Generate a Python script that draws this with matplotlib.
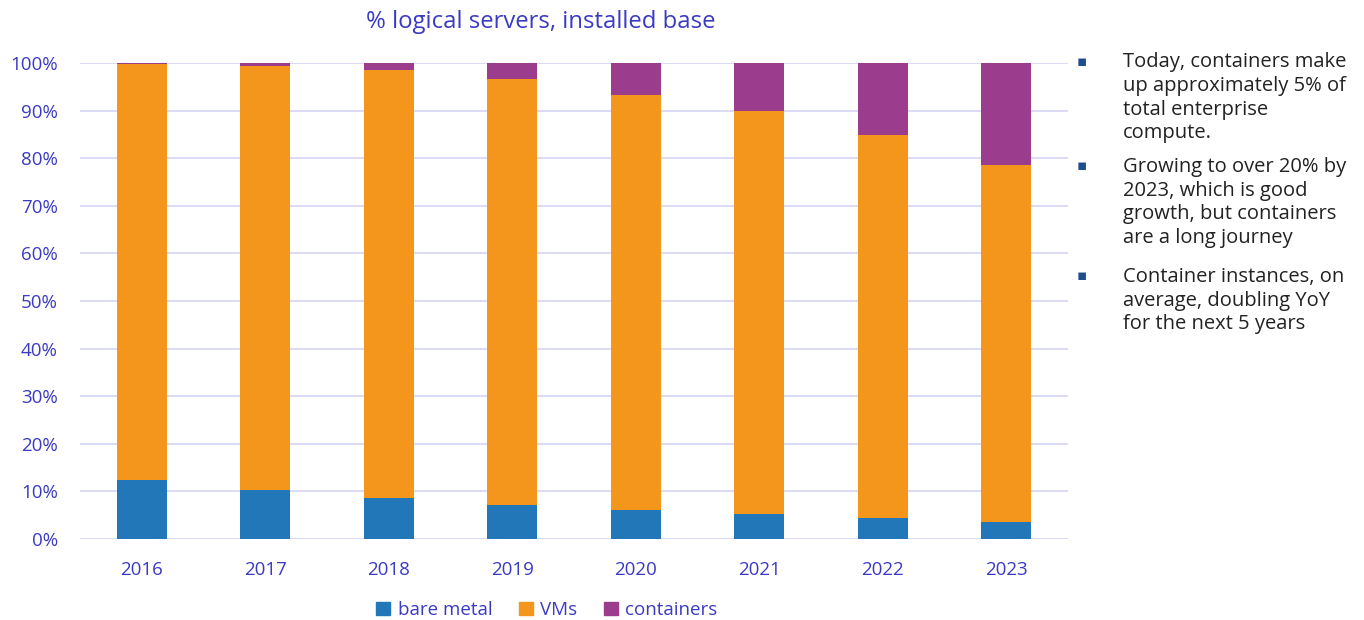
import numpy as np
import matplotlib.pyplot as plt
from matplotlib.patches import Patch

plt.rcParams['font.family'] = ['Open Sans', 'DejaVu Sans']

# Chart data (percent of logical servers)
years = ["2016", "2017", "2018", "2019", "2020", "2021", "2022", "2023"]
bare_metal = [12.4, 10.3, 8.6, 7.1, 6.1, 5.3, 4.4, 3.6]
containers = [0.2, 0.6, 1.5, 3.4, 6.7, 10.1, 15.1, 21.4]
vms = [100 - b - c for b, c in zip(bare_metal, containers)]

series_names = ["bare metal", "VMs", "containers"]
series_colors = ["#2277b9", "#f4961c", "#9b3d8c"]

notes = [
    "Today, containers make\nup approximately 5% of\ntotal enterprise\ncompute.",
    "Growing to over 20% by\n2023, which is good\ngrowth, but containers\nare a long journey",
    "Container instances, on\naverage, doubling YoY\nfor the next 5 years",
]

blue_text = "#3a3ac4"
grid_col = "#d8d8f6"

fig = plt.figure(figsize=(13.64, 6.2), dpi=100)
ax = fig.add_axes([80 / 1364, 1 - 539 / 620, 988 / 1364, 476 / 620])

x = np.arange(len(years))
w = 0.405
ax.bar(x, bare_metal, w, color=series_colors[0], zorder=3)
ax.bar(x, vms, w, bottom=bare_metal, color=series_colors[1], zorder=3)
bottom2 = [b + v for b, v in zip(bare_metal, vms)]
ax.bar(x, containers, w, bottom=bottom2, color=series_colors[2], zorder=3)

ax.set_xlim(-0.5, len(years) - 0.5)
ax.set_ylim(0, 100)
ax.set_yticks(np.arange(0, 101, 10))
ax.set_yticklabels([f"{v}%" for v in range(0, 101, 10)])
ax.set_xticks(x)
ax.set_xticklabels(years)
ax.tick_params(axis='both', length=0, labelsize=13.5, colors=blue_text)
ax.tick_params(axis='x', pad=16)
ax.tick_params(axis='y', pad=16)
ax.yaxis.grid(True, color=grid_col, linewidth=1.3, zorder=0)
for s in ax.spines.values():
    s.set_visible(False)

fig.text(541 / 1364, 1 - 22 / 620, "% logical servers, installed base",
         ha='center', va='center', fontsize=17.2, color=blue_text)

handles = [Patch(color=c, label=n) for c, n in zip(series_colors, series_names)]
fig.legend(handles=handles, loc='center', bbox_to_anchor=(547 / 1364, 1 - 610 / 620),
           ncol=3, frameon=False, fontsize=13.5, handlelength=0.75, handleheight=0.75,
           handletextpad=0.4, columnspacing=1.4, labelcolor=blue_text)

note_tops = [62, 167, 277]
for top, note in zip(note_tops, notes):
    fig.text(1082 / 1364, 1 - top / 620, "\u25aa", ha='center', va='center',
             fontsize=11, color="#1f4e8c")
    fig.text(1123 / 1364, 1 - (top - 10) / 620, note, ha='left', va='top',
             fontsize=14.5, color="#222222", linespacing=1.25)

fig.savefig("out.png", dpi=100)
